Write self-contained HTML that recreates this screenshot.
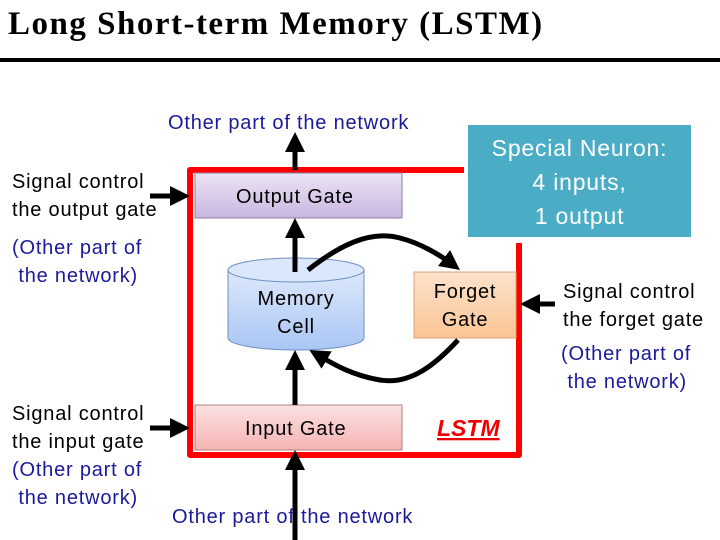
<!DOCTYPE html>
<html><head><meta charset="utf-8"><style>
html,body{margin:0;padding:0;background:#fff;}
body{width:720px;height:540px;position:relative;overflow:hidden;font-family:"Liberation Sans",sans-serif;}
.t{position:absolute;font-size:20px;line-height:28px;letter-spacing:0.8px;color:#000;white-space:nowrap;}
.n{color:#1a1a9a;}
.title{position:absolute;left:8px;top:6px;font-family:"Liberation Serif",serif;font-weight:bold;font-size:33px;letter-spacing:1.5px;white-space:nowrap;}
</style></head><body>
<div class="title">Long Short-term Memory (LSTM)</div>
<div style="position:absolute;left:0;top:58px;width:720px;height:4px;background:#000"></div>
<svg width="720" height="540" style="position:absolute;left:0;top:0">
<defs>
<linearGradient id="g1" x1="0" y1="0" x2="0" y2="1"><stop offset="0" stop-color="#ece4f4"/><stop offset="1" stop-color="#c9b6e0"/></linearGradient>
<linearGradient id="g2" x1="0" y1="0" x2="0" y2="1"><stop offset="0" stop-color="#dde8fb"/><stop offset="1" stop-color="#a9c6f4"/></linearGradient>
<linearGradient id="g3" x1="0" y1="0" x2="0" y2="1"><stop offset="0" stop-color="#fde3cc"/><stop offset="1" stop-color="#fbc594"/></linearGradient>
<linearGradient id="g4" x1="0" y1="0" x2="0" y2="1"><stop offset="0" stop-color="#fbe1e1"/><stop offset="1" stop-color="#f6b4b4"/></linearGradient>
<marker id="a" markerWidth="4" markerHeight="4" refX="2" refY="2" orient="auto" markerUnits="strokeWidth"><path d="M0,0 L4,2 L0,4 z" fill="#000"/></marker>
</defs>
<rect x="468" y="125" width="223" height="112" fill="#4bacc6"/>
<path d="M464,170 H190 V455 H519 V243" fill="none" stroke="#f00" stroke-width="6" stroke-linejoin="round"/>
<rect x="195" y="173" width="207" height="45" fill="url(#g1)" stroke="#8d7fa8" stroke-width="1"/>
<rect x="195" y="405" width="207" height="45" fill="url(#g4)" stroke="#b08080" stroke-width="1"/>
<rect x="414" y="272" width="102" height="66" fill="url(#g3)" stroke="#e0a070" stroke-width="1"/>
<path d="M228,270 V338 A68,12 0 0 0 364,338 V270" fill="url(#g2)" stroke="#7090c0"/>
<ellipse cx="296" cy="270" rx="68" ry="12" fill="#dbe7fb" stroke="#7090c0"/>
<g stroke="#000" stroke-width="5" fill="none">
<line x1="295" y1="170" x2="295" y2="142" marker-end="url(#a)"/>
<line x1="295" y1="272" x2="295" y2="228" marker-end="url(#a)"/>
<line x1="295" y1="405" x2="295" y2="360" marker-end="url(#a)"/>
<line x1="295" y1="540" x2="295" y2="460" marker-end="url(#a)"/>
<line x1="150" y1="196" x2="180" y2="196" marker-end="url(#a)"/>
<line x1="150" y1="428" x2="180" y2="428" marker-end="url(#a)"/>
<line x1="555" y1="304" x2="530" y2="304" marker-end="url(#a)"/>
<path d="M308,270 C340,245 370,230 400,238 C420,243 440,255 452,264" marker-end="url(#a)"/>
<path d="M458,340 C435,365 410,385 380,380 C350,375 330,362 318,355" marker-end="url(#a)"/>
</g>
<text x="437" y="436" fill="#e00" font-family="Liberation Sans" font-size="23" font-weight="bold" font-style="italic" text-decoration="underline">LSTM</text>
</svg>
<div class="t n" style="left:168px;top:109px">Other part of the network</div>
<div class="t n" style="left:172px;top:503px">Other part of the network</div>
<div class="t" style="left:12px;top:168px">Signal control<br>the output gate</div>
<div class="t n" style="left:12px;top:234px">(Other part of<br>&nbsp;the network)</div>
<div class="t" style="left:12px;top:400px">Signal control<br>the input gate</div>
<div class="t n" style="left:12px;top:456px">(Other part of<br>&nbsp;the network)</div>
<div class="t" style="left:563px;top:278px">Signal control<br>the forget gate</div>
<div class="t n" style="left:561px;top:340px">(Other part of<br>&nbsp;the network)</div>
<div class="t" style="left:236px;top:183px">Output Gate</div>
<div class="t" style="left:245px;top:415px">Input Gate</div>
<div class="t" style="left:228px;top:285px;width:136px;text-align:center">Memory<br>Cell</div>
<div class="t" style="left:414px;top:278px;width:102px;text-align:center">Forget<br>Gate</div>
<div class="t" style="left:468px;top:131px;width:223px;text-align:center;color:#fff;font-size:23px;line-height:34px">Special Neuron:<br>4 inputs,<br>1 output</div>
</body></html>
